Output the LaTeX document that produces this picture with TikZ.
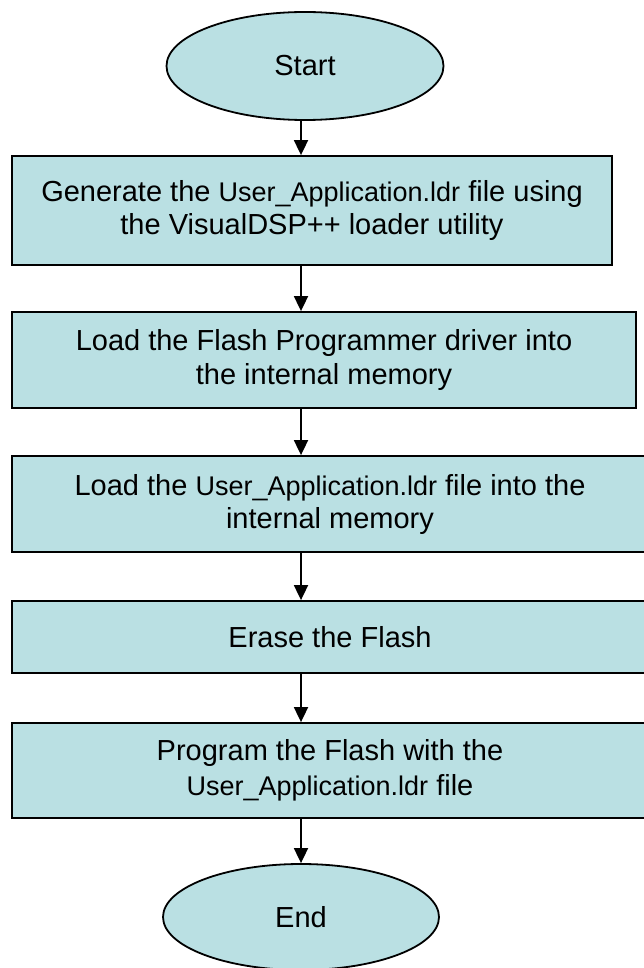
\documentclass[tikz,border=0pt]{standalone}
\usepackage{fontspec}
\setmainfont{Liberation Sans}
\usetikzlibrary{shapes.geometric,arrows.meta}
\definecolor{boxfill}{RGB}{186,224,227}
\newcommand{\ufile}{{\fontsize{27}{33}\selectfont User\_Application.ldr}}
\begin{document}
\begin{tikzpicture}[x=1pt,y=-1pt,
  every node/.style={font=\fontsize{29}{33}\selectfont, align=center, inner sep=0pt},
  stepbox/.style={draw=black, line width=1.8pt, fill=boxfill, rectangle},
  term/.style={draw=black, line width=1.8pt, fill=boxfill, ellipse},
  flow/.style={line width=1.8pt, -{Triangle[length=15pt,width=14pt]}}]
\useasboundingbox (0,0) rectangle (644,968);
\fill[white] (0,0) rectangle (644,968);
\clip (0,0) rectangle (644,968);
\coordinate (ax) at (301,0);
\node[term, minimum width=277pt, minimum height=108pt] (start) at (305,66) {Start};
\node[stepbox, minimum width=600pt, minimum height=109pt] (b1) at (312,210.5)
  {Generate the \ufile{} file using\\the VisualDSP++ loader utility};
\node[stepbox, minimum width=624pt, minimum height=96pt] (b2) at (324,360)
  {Load the Flash Programmer driver into\\the internal memory};
\node[stepbox, minimum width=636pt, minimum height=96pt] (b3) at (330,504)
  {Load the \ufile{} file into the\\internal memory};
\node[stepbox, minimum width=636pt, minimum height=72pt] (b4) at (330,637)
  {Erase the Flash};
\node[stepbox, minimum width=636pt, minimum height=95pt] (b5) at (330,770.5)
  {Program the Flash with the\\[2pt]\ufile{} file};
\node[term, minimum width=276pt, minimum height=106pt] (end) at (301,917) {End};
\draw[flow] (start.south -| ax) -- (b1.north -| ax);
\draw[flow] (b1.south -| ax) -- (b2.north -| ax);
\draw[flow] (b2.south -| ax) -- (b3.north -| ax);
\draw[flow] (b3.south -| ax) -- (b4.north -| ax);
\draw[flow] (b4.south -| ax) -- (b5.north -| ax);
\draw[flow] (b5.south -| ax) -- (end.north);
\end{tikzpicture}
\end{document}
